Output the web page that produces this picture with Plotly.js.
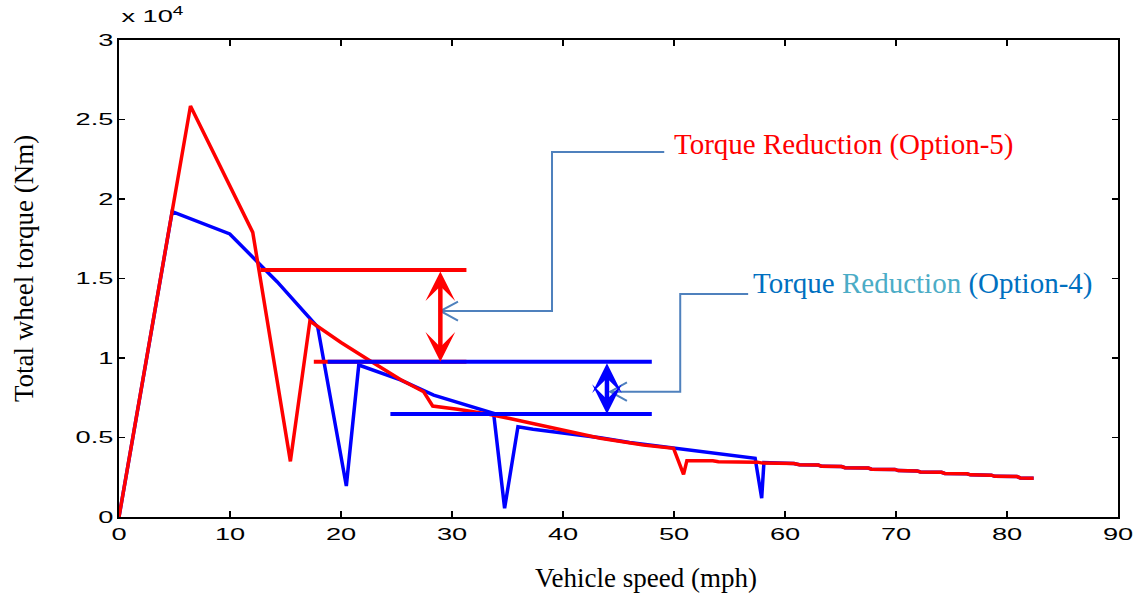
<!DOCTYPE html>
<html>
<head>
<meta charset="utf-8">
<script src="https://cdn.plot.ly/plotly-3.0.1.min.js"></script>
<style>
  html, body { margin: 0; padding: 0; background: #ffffff; }
  #chart { width: 1137px; height: 594px; }
</style>
</head>
<body>
<div id="chart"></div>
<script>
// Vehicle speed (mph) and total wheel torque (Nm), Option-5
const speedOption5 = [0, 6.44, 12.05, 15.44, 17.2, 20.0, 22.5, 25.35, 27.45, 28.26, 30.5, 33.2, 35.2, 37.3, 40.3, 43.36, 47.25, 49.96, 50.86, 51.16, 53.5, 54.0, 57.5, 58.0, 60.8, 61.3, 63.0, 63.3, 65.1, 65.4, 67.5, 67.8, 69.9, 70.2, 71.9, 72.2, 74.1, 74.4, 76.4, 76.7, 78.6, 78.9, 80.9, 81.2, 82.4];
const torqueOption5 = [0, 25850, 17900, 3500, 12320, 10980, 9870, 8650, 7880, 6980, 6780, 6480, 6200, 5890, 5430, 4950, 4530, 4320, 2680, 3540, 3540, 3470, 3450, 3390, 3370, 3290, 3270, 3190, 3170, 3100, 3080, 3010, 2990, 2920, 2900, 2830, 2810, 2740, 2720, 2650, 2630, 2560, 2540, 2460, 2440];

// Option-4
const speedOption4 = [0, 4.79, 9.98, 12.14, 14.24, 17.9, 20.48, 21.6, 25.35, 28.35, 31.0, 33.75, 34.74, 35.94, 37.3, 40.3, 43.36, 46.0, 49.96, 52.96, 55.36, 57.31, 57.9, 58.1, 60.8, 61.3, 63.0, 63.3, 65.1, 65.4, 67.5, 67.8, 69.9, 70.2, 71.9, 72.2, 74.1, 74.4, 76.4, 76.7, 78.6, 78.9, 80.9, 81.2, 82.4];
const torqueOption4 = [0, 19200, 17800, 16270, 14800, 11950, 1950, 9560, 8620, 7670, 7100, 6520, 550, 5680, 5520, 5260, 4980, 4680, 4340, 4110, 3900, 3690, 1180, 3420, 3370, 3290, 3270, 3190, 3170, 3100, 3080, 3010, 2990, 2920, 2900, 2830, 2810, 2740, 2720, 2650, 2630, 2560, 2540, 2460, 2440];

// Reference levels marking the torque reductions
const opt5UpperSpeed = [12.74, 31.3];
const opt5UpperTorque = [15540, 15540];
const opt5LowerSpeed = [17.55, 31.3];
const opt5LowerTorque = [9760, 9760];
const opt4UpperSpeed = [18.8, 48.0];
const opt4UpperTorque = [9760, 9760];
const opt4LowerSpeed = [24.45, 48.0];
const opt4LowerTorque = [6480, 6480];

// Axis ticks
const speedTicks = [0, 10, 20, 30, 40, 50, 60, 70, 80, 90];
const speedTickText = ['0', '10', '20', '30', '40', '50', '60', '70', '80', '90'];
const torqueTicks = [0, 5000, 10000, 15000, 20000, 25000, 30000];
const torqueTickText = ['0', '0.5', '1', '1.5', '2', '2.5', '3'];

const RED = '#ff0000';
const BLUE = '#0000ff';
const CALLOUT = '#4f81bd';
const serif = 'Liberation Serif, Times New Roman, serif';
const sans = 'Liberation Sans, Arial, Helvetica, sans-serif';

function lineTrace(x, y, color, width) {
  return { x: x, y: y, type: 'scatter', mode: 'lines', hoverinfo: 'skip',
           line: { color: color, width: width, shape: 'linear' }, showlegend: false };
}

const traces = [
  lineTrace(speedOption4, torqueOption4, BLUE, 3.5),
  lineTrace(speedOption5, torqueOption5, RED, 3.5),
  lineTrace(opt5UpperSpeed, opt5UpperTorque, RED, 4),
  lineTrace(opt5LowerSpeed, opt5LowerTorque, RED, 4),
  lineTrace(opt4UpperSpeed, opt4UpperTorque, BLUE, 4),
  lineTrace(opt4LowerSpeed, opt4LowerTorque, BLUE, 4)
];

// Double-headed arrows spanning each reduction
function spanArrow(xv, y0, y1, color) {
  return { x: xv, y: y0, ax: xv, ay: y1, xref: 'x', yref: 'y', axref: 'x', ayref: 'y',
           text: '', showarrow: true, arrowside: 'end+start', arrowhead: 3, startarrowhead: 3,
           arrowsize: 1.1, startarrowsize: 1.1, arrowwidth: 4.5, arrowcolor: color,
           standoff: 0, startstandoff: 0 };
}

const annotations = [
  spanArrow(28.95, opt5LowerTorque[0], opt5UpperTorque[0], RED),
  spanArrow(43.96, opt4LowerTorque[0], opt4UpperTorque[0], BLUE),
  { x: 49.84, y: 23459, xref: 'x', yref: 'y', xanchor: 'left', yanchor: 'middle', showarrow: false,
    text: 'Torque Reduction (Option-5)', font: { family: serif, size: 29, color: RED } },
  { x: 56.9, y: 14686, xref: 'x', yref: 'y', xanchor: 'left', yanchor: 'middle', showarrow: false,
    text: 'Torque <span style="color:#4bacc6">Reduction</span> (Option-4)',
    font: { family: serif, size: 29, color: '#0070c0' } },
  { x: 0.528, y: -0.127, xref: 'paper', yref: 'paper', xanchor: 'center', yanchor: 'middle', showarrow: false,
    text: 'Vehicle speed (mph)', font: { family: serif, size: 27, color: '#000000' } },
  { x: -0.0945, y: 0.521, xref: 'paper', yref: 'paper', xanchor: 'center', yanchor: 'middle', showarrow: false,
    textangle: -90, text: 'Total wheel torque (Nm)', font: { family: serif, size: 27, color: '#000000' } },
  { x: 0.034, y: 1.026, xref: 'paper', yref: 'paper', xanchor: 'center', yanchor: 'bottom', showarrow: false,
    text: 'x 10<sup>4</sup>', font: { family: sans, size: 17, color: '#000000' } }
];

// Elbow callouts from the labels to the arrows
const calloutLine = { color: CALLOUT, width: 2 };
const shapes = [
  { type: 'path', xref: 'x', yref: 'y', line: calloutLine,
    path: 'M49.12,22956 L39.01,22956 L39.01,12956 L28.95,12956' },
  { type: 'path', xref: 'x', yref: 'y', line: calloutLine,
    path: 'M30.54,13541 L28.95,12956 L30.54,12346' },
  { type: 'path', xref: 'x', yref: 'y', line: calloutLine,
    path: 'M56.68,14025 L50.56,14025 L50.56,7881 L44.26,7881' },
  { type: 'path', xref: 'x', yref: 'y', line: calloutLine,
    path: 'M45.76,8472 L44.26,7881 L45.76,7296' }
];

const axisCommon = {
  showline: true, linecolor: '#000000', linewidth: 2.2, mirror: 'ticks',
  ticks: 'inside', ticklen: 6, tickwidth: 1.6, tickcolor: '#000000',
  showgrid: false, zeroline: false, fixedrange: true,
  tickfont: { family: sans, size: 17, color: '#000000' }
};

const layout = {
  width: 1137, height: 594,
  margin: { l: 119, r: 19, t: 40, b: 77, autoexpand: false },
  paper_bgcolor: '#ffffff', plot_bgcolor: '#ffffff',
  showlegend: false,
  xaxis: Object.assign({}, axisCommon, { range: [0, 90], tickmode: 'array', tickvals: speedTicks, ticktext: speedTickText }),
  yaxis: Object.assign({}, axisCommon, { range: [0, 30000], tickmode: 'array', tickvals: torqueTicks, ticktext: torqueTickText }),
  annotations: annotations,
  shapes: shapes
};

// Widen the numeric labels horizontally, like the exported figure's tick font
function widen(el, factor) {
  const w = el.getComputedTextLength();
  if (w > 0) {
    el.setAttribute('textLength', (w * factor).toFixed(2));
    el.setAttribute('lengthAdjust', 'spacingAndGlyphs');
  }
}

Plotly.newPlot('chart', traces, layout, { staticPlot: true, displayModeBar: false }).then(function (gd) {
  gd.querySelectorAll('.xtick text, .ytick text').forEach(function (t) { widen(t, 1.6); });
  gd.querySelectorAll('.annotation-text').forEach(function (t) {
    if (t.textContent.indexOf('x 10') === 0) widen(t, 1.6);
  });
});
</script>
</body>
</html>
